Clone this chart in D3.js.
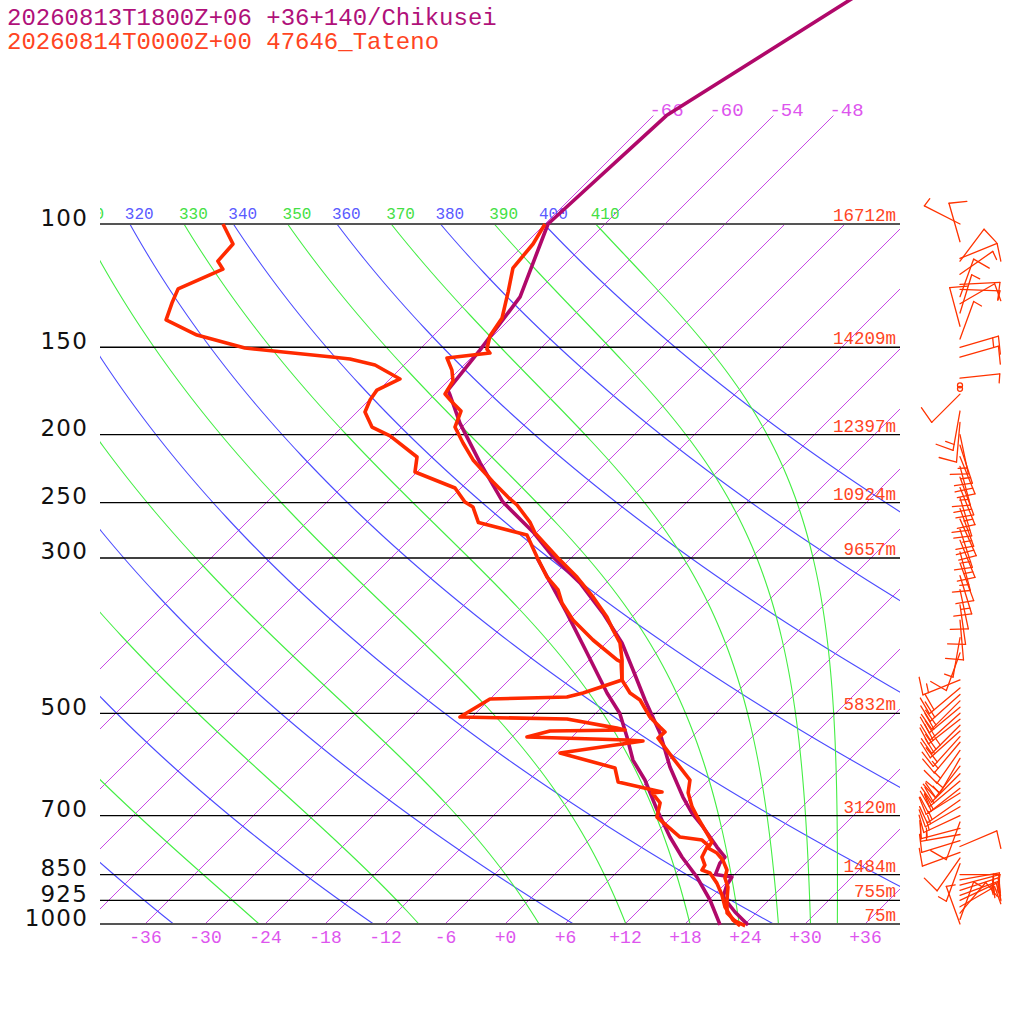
<!DOCTYPE html>
<html><head><meta charset="utf-8">
<script src="https://cdn.jsdelivr.net/npm/d3@7"></script>
<style>body{margin:0;background:#fff}svg{display:block}</style>
</head><body>
<svg id="c" width="1024" height="1024"></svg>
<script>
// ---------- data ----------
const titleLines = ["20260813T1800Z+06 +36+140/Chikusei", "20260814T0000Z+00 47646_Tateno"];
const pressureLevels = [1000, 925, 850, 700, 500, 300, 250, 200, 150, 100];
const heightLabels = ["75m", "755m", "1484m", "3120m", "5832m", "9657m", "10924m", "12397m", "14209m", "16712m"];
const isothermValues = [-66, -60, -54, -48, -42, -36, -30, -24, -18, -12, -6, 0, 6, 12, 18, 24, 30, 36];
const isothermTopLabels = [-66, -60, -54, -48];
const tempTicks = [-36, -30, -24, -18, -12, -6, 0, 6, 12, 18, 24, 30, 36];
const thetaValues = [240, 260, 280, 300, 320, 340, 360, 380, 400];
const thetaEValues = [250, 270, 290, 310, 330, 350, 370, 390, 410];

// Tateno observation
const obsP = [100,106.8,115.6,125,136.2,144.6,150.9,152.9,155.4,161.7,167.6,174.9,180.2,185,195,205.5,217.3,233.6,245.5,252,266.6,276.3,299,319.4,341,364.3,380.2,396.8,419.5,448.2,467.7,478.6,506.2,523.3,531.7,542.4,579.4,622.8,649.6,680.3,705.7,746.3,763.6,778.8,791.8,810.5,837.4,859.7,885.6,924.1,964.2,990,1006];
const obsT = [-66.0,-65.2,-64.8,-62.9,-60.9,-60.3,-59.3,-58.6,-62.4,-60.7,-59.5,-59.0,-57.3,-55.7,-54.7,-52.3,-49.6,-45.4,-42.4,-40.7,-37.7,-36.1,-31.5,-27.5,-23.9,-20.5,-18.6,-16.6,-14.7,-12.7,-10.6,-8.9,-6.2,-4.2,-3.2,-3.3,0.2,4.1,5.2,7.0,8.7,11.4,12.5,12.7,14.1,15.4,16.8,17.4,18.6,19.8,21.1,22.7,24.2];
const obsTdP = [100,106.8,113,116,123.8,129.7,137.1,144.1,150.4,154.9,155.9,159,166.5,172.7,178.4,185.6,195,200.8,215.2,226.1,238.3,249.6,253.7,267,278.2,299,319.4,333.2,347.9,367.9,392.9,419.5,422.3,448.2,467.7,474,477.1,506.2,509.5,525,528.3,530,540.6,545.9,547.7,569.8,598.6,626.6,637.4,647.8,649.6,671.4,703.4,751.2,758.6,771.2,802.3,823.9,837.4,845.6,874.2,909.1,945.6,986.9,1006];
const obsTd = [-98.2,-95.2,-95.0,-93.7,-96.2,-95.4,-94.3,-89.7,-83.6,-74.0,-72.0,-68.9,-65.0,-66.2,-65.9,-65.2,-63.0,-60.3,-55.5,-54.2,-48.6,-46.2,-44.9,-42.8,-36.7,-33.5,-30.5,-28.1,-26.4,-23.6,-19.6,-15.2,-14.6,-12.7,-15.3,-16.5,-24.0,-25.2,-14.3,-8.4,-7.4,-14.8,-16.5,-6.2,-4.5,-11.6,-4.6,-2.9,-0.2,2.5,1.6,3.4,4.5,8.8,11.3,12.4,13.0,14.1,14.3,15.4,17.1,18.8,20.3,22.4,23.7];

// Chikusei forecast
const fcP = [47,70,100,127.1,151.4,172.7,175.5,192.5,219.4,249.6,275.4,299,325.7,359.6,396.8,433.6,478.6,533.5,596.7,658.6,694.2,726.8,776.3,802.3,818.5,850,856.9,880,915,961.3,1003];
const fcT = [-57.6,-64.7,-65.7,-61.2,-59.9,-59.1,-58.4,-54.6,-48.6,-42.4,-36.4,-31.9,-26.6,-21.3,-16.4,-12.6,-8.4,-3.6,0.8,5.1,7.6,10.1,13.5,15.3,15.4,16.1,18.0,18.3,19.1,21.8,24.4];
const fcTdP = [300,359.6,410,467.7,500,540.6,583.2,622.8,687.1,751.2,802.3,856.9,924.1,1003];
const fcTd = [-33.4,-24.9,-18.9,-12.9,-9.6,-6.5,-3.6,-0.4,3.8,7.8,11.0,14.5,18.1,21.6];

// Winds (pressure hPa, direction deg, speed kt)
const windP   = [100,106,112,113,118,122,124,127,130,134,140,146,150,155,166,170,172,175,185,192,200,207,215,222,230,238,246,255,264,273,283,294,305,318,333,350,368,390,410,448,460,470,480,490,500,510,520,530,540,550,565,580,595,610,625,640,650,665,680,700,715,730,745,760,775,790,805,820,850,865,880,895,910,925,945,965,985,1000];
const windDir = [297,344,68,37,55,87,92,20,60,17,345,20,74,74,84,0,0,225,190,185,168,162,158,165,160,158,163,160,156,162,158,165,160,163,168,172,175,190,200,248,230,228,225,230,228,232,225,228,222,220,215,210,218,225,230,232,238,235,240,245,200,255,260,253,67,250,215,200,90,80,75,72,70,65,60,40,20,340];
const windSpd = [5,10,10,10,5,10,5,10,10,5,10,5,15,10,5,0,0,10,15,10,15,15,20,15,20,15,20,15,20,15,15,15,10,15,10,10,10,5,10,15,20,20,20,20,20,20,25,20,20,15,15,15,15,20,20,20,20,15,15,15,10,15,15,10,10,10,10,5,10,15,20,20,15,15,10,10,5,5];

// ---------- layout ----------
const svg = d3.select("#c");
const yScale = d3.scaleLog().domain([1000, 100]).range([924, 224]);
const tScale = d3.scaleLinear().domain([0, 10]).range([505, 605]);
const XL = 100, XR = 900, YB = yScale(1000), YT = yScale(100);
const skewX = (t, p) => tScale(t) + (YB - yScale(p));

const defs = svg.append("defs");
defs.append("clipPath").attr("id", "clipPlot").append("rect")
  .attr("x", XL).attr("y", YT).attr("width", XR - XL).attr("height", YB - YT);
defs.append("clipPath").attr("id", "clipIso").append("rect")
  .attr("x", XL).attr("y", 0).attr("width", XR - XL).attr("height", YB);
defs.append("clipPath").attr("id", "clipLab").append("rect")
  .attr("x", XL).attr("y", 150).attr("width", 924).attr("height", 100);

const MONO = "'Liberation Mono','DejaVu Sans Mono',monospace";

// sample pressures
const samples = d3.range(0, 1.0001, 0.01).map(k => 1000 / Math.pow(10, k));

// ---------- isotherms ----------
const isoG = svg.append("g").attr("clip-path", "url(#clipIso)");
isothermValues.forEach(t => {
  const top = isothermTopLabels.includes(t) ? 70 : 100;
  isoG.append("line")
    .attr("x1", skewX(t, 1000)).attr("y1", YB)
    .attr("x2", skewX(t, top)).attr("y2", yScale(top))
    .attr("stroke", "#c946e6").attr("stroke-width", 1);
});
svg.append("g").selectAll("text").data(isothermTopLabels).join("text")
  .attr("x", d => skewX(d, 70) - 4).attr("y", yScale(70))
  .attr("font-family", MONO).attr("font-size", 19).attr("fill", "#dd55ee")
  .text(d => "-" + Math.abs(d));

// ---------- dry adiabats ----------
const line = d3.line().x(d => d[0]).y(d => d[1]);
const dryG = svg.append("g").attr("clip-path", "url(#clipPlot)");
thetaValues.forEach(th => {
  const pts = samples.map(p => [skewX(th * Math.pow(p / 1000, 0.286) - 273.15, p), yScale(p)]);
  dryG.append("path").attr("d", line(pts)).attr("fill", "none")
    .attr("stroke", "#4c4cff").attr("stroke-width", 1.1);
});

// ---------- moist adiabats (Bolton theta-e) ----------
function thetaE(T, p) {
  const Tc = T - 273.15;
  const es = 6.112 * Math.exp(17.67 * Tc / (Tc + 243.5));
  if (es >= p * 0.9) return Infinity;
  const r = 622 * es / (p - es);
  return T * Math.pow(1000 / p, 0.2854 * (1 - 0.00028 * r)) *
    Math.exp((3.376 / T - 0.00254) * r * (1 + 0.00081 * r));
}
function tempForThetaE(te, p) {
  let lo = 140, hi = 340;
  for (let i = 0; i < 60; i++) {
    const mid = (lo + hi) / 2;
    if (thetaE(mid, p) > te) hi = mid; else lo = mid;
  }
  return (lo + hi) / 2 - 273.15;
}
const moistG = svg.append("g").attr("clip-path", "url(#clipPlot)");
thetaEValues.forEach(te => {
  const pts = samples.map(p => [skewX(tempForThetaE(te, p), p), yScale(p)]);
  moistG.append("path").attr("d", line(pts)).attr("fill", "none")
    .attr("stroke", "#44ee44").attr("stroke-width", 1.1);
});

// adiabat labels at 100 hPa (only those reaching into the plot)
const labG = svg.append("g").attr("clip-path", "url(#clipLab)");
const adiabatLabels = thetaValues.map(th => ({ v: th, x: skewX(th * Math.pow(0.1, 0.286) - 273.15, 100) - 5, c: "#5a5aff" }))
  .concat(thetaEValues.map(te => ({ v: te, x: skewX(tempForThetaE(te, 100), 100) - 5, c: "#44e044" })))
  .filter(d => d.x + 28 > XL);
labG.selectAll("text").data(adiabatLabels).join("text")
  .attr("x", d => d.x).attr("y", YT - 5)
  .attr("font-family", MONO).attr("font-size", 16).attr("fill", d => d.c).text(d => d.v);

// ---------- pressure lines ----------
pressureLevels.forEach((p, i) => {
  const edge = (p === 1000 || p === 100);
  svg.append("line").attr("x1", XL).attr("x2", XR)
    .attr("y1", yScale(p)).attr("y2", yScale(p))
    .attr("stroke", edge ? "#555" : "#000").attr("stroke-width", edge ? 2 : 1.3);
  svg.append("text").attr("x", 896).attr("y", yScale(p) - 3)
    .attr("text-anchor", "end").attr("font-family", MONO).attr("font-size", 17.5)
    .attr("fill", "#ff4422").text(heightLabels[i]);
});

// pressure axis (left)
const pAxis = svg.append("g").attr("transform", `translate(${XL},0)`)
  .call(d3.axisLeft(yScale).tickValues(pressureLevels).tickFormat(d => d).tickSize(0).tickPadding(12));
pAxis.select(".domain").remove();
pAxis.selectAll("text").attr("dy", 1).attr("font-family", "'DejaVu Sans',sans-serif")
  .attr("font-size", 23).attr("letter-spacing", 1.2).attr("fill", "#111");

// temperature axis (bottom)
const tAxis = svg.append("g").attr("transform", `translate(0,${YB})`)
  .call(d3.axisBottom(tScale).tickValues(tempTicks)
    .tickFormat(d => (d >= 0 ? "+" : "-") + Math.abs(d)).tickSize(0));
tAxis.select(".domain").remove();
tAxis.selectAll("text").attr("y", 19).attr("dy", 0).attr("font-family", MONO)
  .attr("font-size", 18).attr("fill", "#dd55ee");

// ---------- profiles ----------
const prof = d3.line().x(d => skewX(d.t, d.p)).y(d => yScale(d.p));
const zipP = (P, T) => P.map((p, i) => ({ p, t: T[i] }));
const purple = "#b0086a", red = "#ff2a00";
[[fcTdP, fcTd], [fcP, fcT]].forEach(([P, T]) =>
  svg.append("path").attr("d", prof(zipP(P, T))).attr("fill", "none")
    .attr("stroke", purple).attr("stroke-width", 3.6).attr("stroke-linejoin", "round"));
[[obsTdP, obsTd], [obsP, obsT]].forEach(([P, T]) =>
  svg.append("path").attr("d", prof(zipP(P, T))).attr("fill", "none")
    .attr("stroke", red).attr("stroke-width", 3.6).attr("stroke-linejoin", "round"));

// ---------- wind barbs ----------
const barbG = svg.append("g").attr("stroke", "#ff3300").attr("stroke-width", 1.3)
  .attr("fill", "none").attr("stroke-linecap", "round");
const BX = 960, STAFF = 40, FULL = 18, HALF = 9, GAP = 6;
windP.forEach((p, i) => {
  const y0 = yScale(p), spd = windSpd[i];
  if (spd < 2.5) {
    barbG.append("circle").attr("cx", BX).attr("cy", y0).attr("r", 2.5);
    return;
  }
  const a = windDir[i] * Math.PI / 180;
  const ux = Math.sin(a), uy = -Math.cos(a);
  const px = -uy, py = ux;            // clockwise side
  const tilt = -10 * Math.PI / 180;
  const fx = px * Math.cos(tilt) + ux * Math.sin(tilt);
  const fy = py * Math.cos(tilt) + uy * Math.sin(tilt);
  const tx = BX + STAFF * ux, ty = y0 + STAFF * uy;
  barbG.append("line").attr("x1", BX).attr("y1", y0).attr("x2", tx).attr("y2", ty);
  let s = Math.round(spd / 5) * 5, pos = 0;
  while (s >= 10) {
    const sx = tx - pos * ux, sy = ty - pos * uy;
    barbG.append("line").attr("x1", sx).attr("y1", sy).attr("x2", sx + FULL * fx).attr("y2", sy + FULL * fy);
    pos += GAP; s -= 10;
  }
  if (s >= 5) {
    const sx = tx - pos * ux, sy = ty - pos * uy;
    barbG.append("line").attr("x1", sx).attr("y1", sy).attr("x2", sx + HALF * fx).attr("y2", sy + HALF * fy);
  }
});

// ---------- titles ----------
svg.append("text").attr("x", 7).attr("y", 25).attr("font-family", MONO).attr("font-size", 24)
  .attr("fill", "#b0117a").text(titleLines[0]);
svg.append("text").attr("x", 7).attr("y", 49).attr("font-family", MONO).attr("font-size", 24)
  .attr("fill", "#ff4422").text(titleLines[1]);
</script>
</body></html>
